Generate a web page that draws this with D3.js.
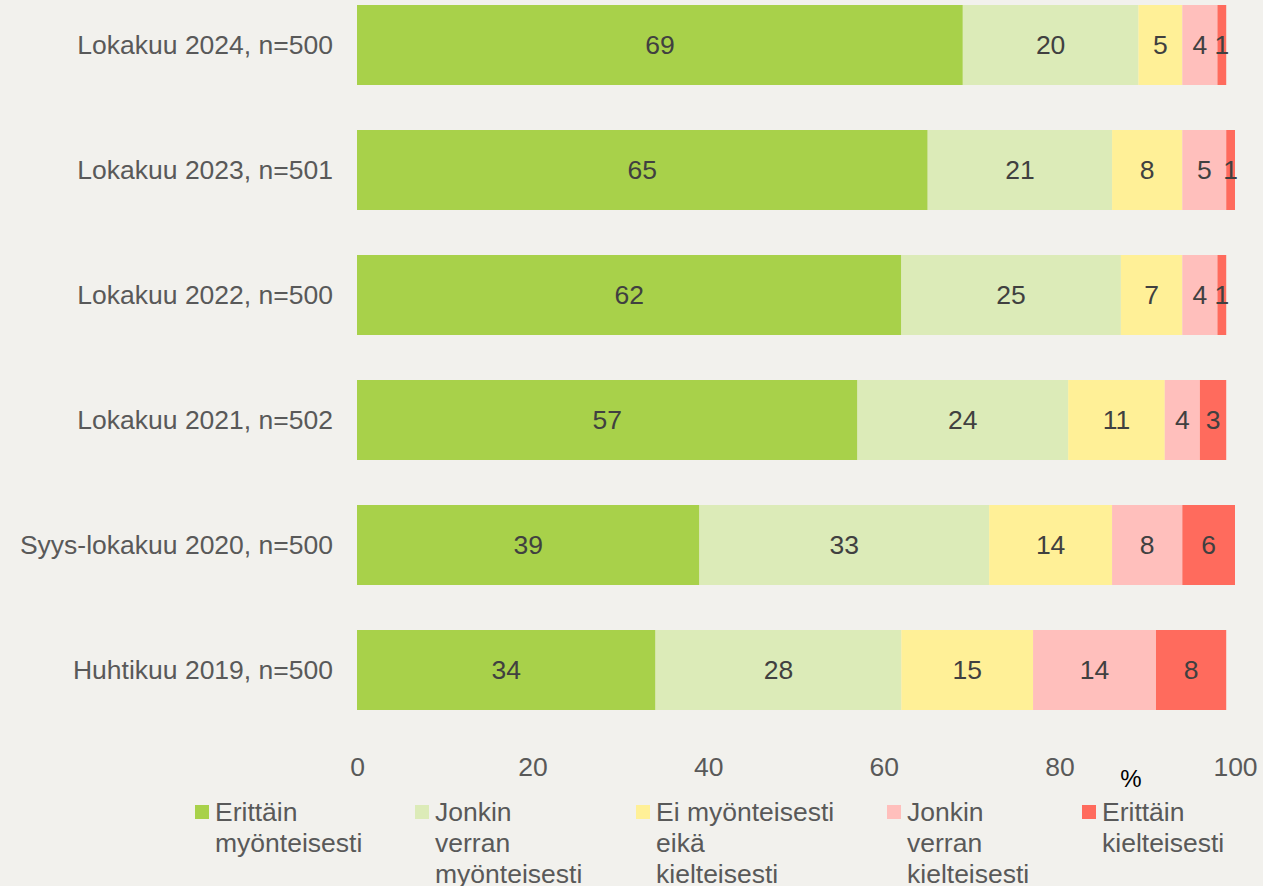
<!DOCTYPE html>
<html>
  <head>
    <meta charset="UTF-8" />
    <title>Lokakuu kysely</title>
    <style>
      body { margin: 0; background: #f2f1ed; }
      svg { display: block; font-family: "Liberation Sans", Arial, sans-serif; }
    </style>
  </head>
  <body>
    <svg></svg>

    <script src="https://d3js.org/d3.v7.min.js"></script>
    <script>
      // data
      const categories = [
        "Lokakuu 2024, n=500",
        "Lokakuu 2023, n=501",
        "Lokakuu 2022, n=500",
        "Lokakuu 2021, n=502",
        "Syys-lokakuu 2020, n=500",
        "Huhtikuu 2019, n=500",
      ];
      const seriesNames = [
        "Erittäin myönteisesti",
        "Jonkin verran myönteisesti",
        "Ei myönteisesti eikä kielteisesti",
        "Jonkin verran kielteisesti",
        "Erittäin kielteisesti",
      ];
      const erittainMyont = [69, 65, 62, 57, 39, 34];
      const jonkinMyont = [20, 21, 25, 24, 33, 28];
      const eiKumpaakaan = [5, 8, 7, 11, 14, 15];
      const jonkinKielt = [4, 5, 4, 4, 8, 14];
      const erittainKielt = [1, 1, 1, 3, 6, 8];
      const xTicks = [0, 20, 40, 60, 80, 100];

      // legend lines (how the labels wrap)
      const legendLines = [
        ["Erittäin", "myönteisesti"],
        ["Jonkin", "verran", "myönteisesti"],
        ["Ei myönteisesti", "eikä", "kielteisesti"],
        ["Jonkin", "verran", "kielteisesti"],
        ["Erittäin", "kielteisesti"],
      ];

      let width = 1263,
        height = 886;
      let svg = d3.select("svg").attr("width", width).attr("height", height);

      const colors = ["#a8d14a", "#dcebb8", "#fff097", "#ffbfbc", "#ff6b5d"];
      const fontSize = "26.5px";

      // build table for stacking
      let table = categories.map((c, i) => ({
        cat: c,
        s0: erittainMyont[i],
        s1: jonkinMyont[i],
        s2: eiKumpaakaan[i],
        s3: jonkinKielt[i],
        s4: erittainKielt[i],
      }));
      let keys = ["s0", "s1", "s2", "s3", "s4"];
      let stacked = d3.stack().keys(keys)(table);

      let x = d3.scaleLinear().domain([0, 100]).range([357, 1235]);
      let y = d3
        .scaleBand()
        .domain(categories)
        .range([-17.5, 732.5])
        .paddingInner(0.36)
        .paddingOuter(0.18);

      let layers = svg
        .append("g")
        .selectAll("g")
        .data(stacked)
        .enter()
        .append("g")
        .attr("fill", (d, i) => colors[i]);

      layers
        .selectAll("rect")
        .data((d) => d)
        .enter()
        .append("rect")
        .attr("x", (d) => x(d[0]))
        .attr("y", (d) => y(d.data.cat))
        .attr("width", (d) => x(d[1]) - x(d[0]))
        .attr("height", y.bandwidth());

      // value labels
      layers
        .selectAll("text")
        .data((d) => d)
        .enter()
        .append("text")
        .attr("x", (d) => (x(d[0]) + x(d[1])) / 2)
        .attr("y", (d) => y(d.data.cat) + y.bandwidth() / 2)
        .attr("dy", "0.35em")
        .attr("text-anchor", "middle")
        .attr("fill", "#404040")
        .style("font-size", fontSize)
        .text((d) => d[1] - d[0]);

      // category labels
      svg
        .append("g")
        .selectAll("text")
        .data(categories)
        .enter()
        .append("text")
        .attr("x", 333)
        .attr("y", (d) => y(d) + y.bandwidth() / 2)
        .attr("dy", "0.35em")
        .attr("text-anchor", "end")
        .attr("fill", "#595959")
        .style("font-size", fontSize)
        .text((d) => d);

      // x axis
      let xAxis = svg
        .append("g")
        .attr("transform", "translate(0,750)")
        .call(d3.axisBottom(x).tickValues(xTicks).tickSize(0).tickPadding(7));
      xAxis.select(".domain").remove();
      xAxis
        .selectAll("text")
        .attr("fill", "#595959")
        .style("font-size", fontSize)
        .style("font-family", "Liberation Sans, Arial, sans-serif");

      svg
        .append("text")
        .attr("x", 1131)
        .attr("y", 787)
        .attr("text-anchor", "middle")
        .attr("fill", "#000")
        .style("font-size", "24px")
        .text("%");

      // legend
      const legendX = [195, 415, 636, 887, 1082];
      let legend = svg
        .append("g")
        .selectAll("g")
        .data(seriesNames)
        .enter()
        .append("g")
        .attr("transform", (d, i) => "translate(" + legendX[i] + ",0)");

      legend
        .append("rect")
        .attr("x", 0)
        .attr("y", 805)
        .attr("width", 14)
        .attr("height", 14)
        .attr("fill", (d, i) => colors[i]);

      legend
        .append("text")
        .attr("fill", "#595959")
        .style("font-size", fontSize)
        .selectAll("tspan")
        .data((d, i) => legendLines[i])
        .enter()
        .append("tspan")
        .attr("x", 20)
        .attr("y", (d, j) => 821 + j * 31)
        .text((d) => d);
    </script>
  </body>
</html>
